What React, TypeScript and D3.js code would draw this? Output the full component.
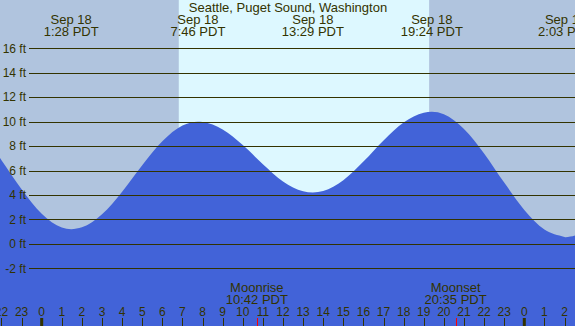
import React from "react";
import * as d3 from "d3";

const W = 575;
const H = 326;

// Hourly tide heights (ft), hours relative to Sep 18 00:00
const tideHours = [-3, -2, -1, 0, 1, 2, 3, 4, 5, 6, 7, 8, 9, 10, 11, 12, 13, 14, 15, 16, 17, 18, 19, 20, 21, 22, 23, 24, 25, 26, 27];
const tideHeights = [8.98, 6.85, 4.47, 2.46, 1.33, 1.35, 2.42, 4.27, 6.44, 8.4, 9.69, 9.98, 9.36, 8.08, 6.51, 5.11, 4.3, 4.32, 5.21, 6.73, 8.46, 9.93, 10.73, 10.6, 9.4, 7.4, 5.01, 2.78, 1.17, 0.57, 0.96];

// High / low extremes
const extremeHours = [1.467, 7.767, 13.483, 19.4, 26.05];
const extremeHeights = [1.2, 10.0, 4.2, 10.8, 0.55];
const extremeDates = ["Sep 18", "Sep 18", "Sep 18", "Sep 18", "Sep 19"];
const extremeTimes = ["1:28 PDT", "7:46 PDT", "13:29 PDT", "19:24 PDT", "2:03 PDT"];

// Sun & moon
const sunriseHour = 6.817;
const sunsetHour = 19.267;
const moonEventHours = [10.7, 20.583];
const moonEventNames = ["Moonrise", "Moonset"];
const moonEventTimes = ["10:42 PDT", "20:35 PDT"];

const feetTicks = [-2, 0, 2, 4, 6, 8, 10, 12, 14, 16];
const hourTicks = [-2, -1, 0, 1, 2, 3, 4, 5, 6, 7, 8, 9, 10, 11, 12, 13, 14, 15, 16, 17, 18, 19, 20, 21, 22, 23, 24, 25, 26];

const TEXT = "#333300";
const FONT = "'Liberation Sans', Arial, sans-serif";

export default function App() {
  const x = d3.scaleLinear().domain([0, 24]).range([41.7, 524.3]);
  const y = d3.scaleLinear().domain([-2, 16]).range([268.3, 48.3]);

  const pts: [number, number][] = [];
  tideHours.forEach((h, i) => pts.push([h, tideHeights[i]]));
  extremeHours.forEach((h, i) => pts.push([h, extremeHeights[i]]));
  pts.sort((a, b) => a[0] - b[0]);

  const area = d3
    .area<[number, number]>()
    .x((d) => x(d[0]))
    .y0(H)
    .y1((d) => y(d[1]))
    .curve(d3.curveMonotoneX);

  const xMin = x.invert(0);
  const xMax = x.invert(W);

  return (
    <svg width={W} height={H} style={{ position: "absolute", left: 0, top: 0 }} fontFamily={FONT}>
      {/* day background */}
      <rect x={0} y={0} width={W} height={H} fill="#DDF8FF" />
      {/* night shading */}
      <rect x={x(xMin)} y={0} width={x(sunriseHour) - x(xMin)} height={H} fill="#B0C4DE" />
      <rect x={x(sunsetHour)} y={0} width={x(xMax) - x(sunsetHour)} height={H} fill="#B0C4DE" />

      {/* water */}
      <path d={area(pts) || ""} fill="#4263D8" />

      {/* gridlines */}
      {feetTicks.map((f) => (
        <g key={f}>
          <line x1={29} x2={W} y1={Math.round(y(f)) + 0.5} y2={Math.round(y(f)) + 0.5} stroke={TEXT} strokeWidth={1} />
          <text x={26} y={y(f)} dy="0.35em" textAnchor="end" fontSize={12} fill={TEXT}>
            {f} ft
          </text>
        </g>
      ))}

      {/* title */}
      <text x={288} y={12} textAnchor="middle" fontSize={13} fill={TEXT}>
        Seattle, Puget Sound, Washington
      </text>

      {/* extreme labels */}
      {extremeHours.map((h, i) => (
        <g key={i}>
          <text x={x(h)} y={24} textAnchor="middle" fontSize={13} fill={TEXT}>
            {extremeDates[i]}
          </text>
          <text x={x(h)} y={36} textAnchor="middle" fontSize={13} fill={TEXT}>
            {extremeTimes[i]}
          </text>
        </g>
      ))}

      {/* moon events */}
      {moonEventHours.map((h, i) => (
        <g key={i}>
          <text x={x(h)} y={291.5} textAnchor="middle" fontSize={13} fill={TEXT}>
            {moonEventNames[i]}
          </text>
          <text x={x(h)} y={304} textAnchor="middle" fontSize={13} fill={TEXT}>
            {moonEventTimes[i]}
          </text>
          <line x1={Math.round(x(h)) + 0.5} x2={Math.round(x(h)) + 0.5} y1={318} y2={H} stroke="#FF0000" strokeWidth={1} />
        </g>
      ))}

      {/* hour ticks */}
      {hourTicks.map((h) => {
        const lbl = ((h % 24) + 24) % 24;
        const midnight = lbl === 0;
        return (
          <g key={h}>
            <line
              x1={midnight ? x(h) : Math.round(x(h)) + 0.5}
              x2={midnight ? x(h) : Math.round(x(h)) + 0.5}
              y1={318}
              y2={H}
              stroke={TEXT}
              strokeWidth={midnight ? 3 : 1}
            />
            <text x={x(h)} y={316} textAnchor="middle" fontSize={12} fill={TEXT}>
              {lbl}
            </text>
          </g>
        );
      })}
    </svg>
  );
}
